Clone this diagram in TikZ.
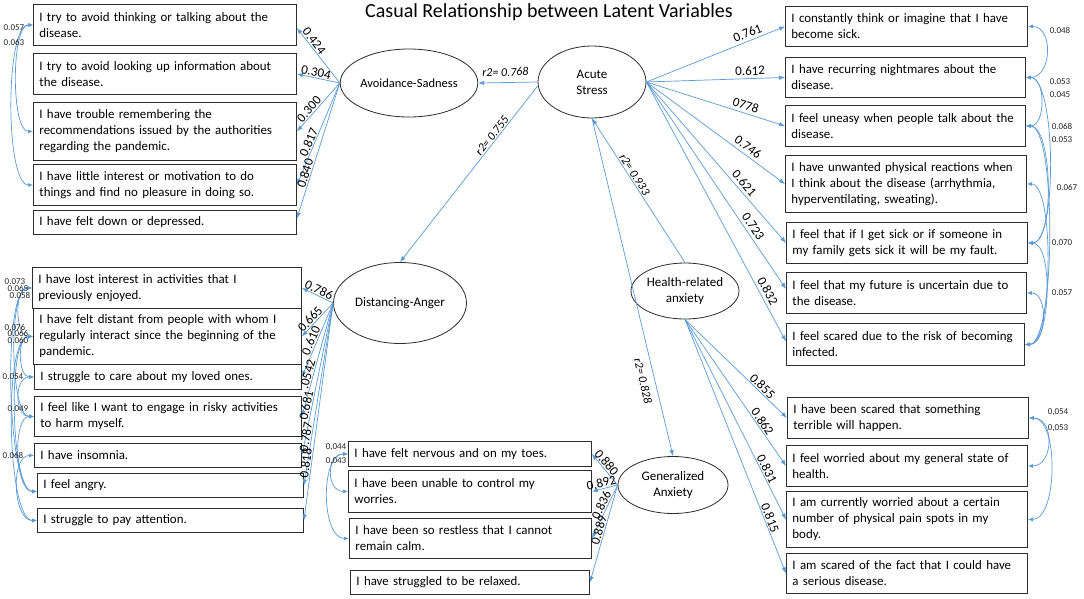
\documentclass[tikz,border=0pt]{standalone}
\usepackage{fontspec}
\setmainfont{Carlito}
\usetikzlibrary{shapes.geometric,arrows.meta}
\definecolor{lnk}{RGB}{91,155,213}
\definecolor{bord}{RGB}{45,45,45}
\newcommand\keepln[1]{\mbox{#1}}
\begin{document}
\begin{tikzpicture}[x=1pt,y=-1pt,
  box/.style={draw=bord, line width=0.9pt, fill=white, anchor=north west, inner xsep=6pt, inner ysep=0pt, align=left, font=\fontsize{12.9}{16}\selectfont},
  lat/.style={ellipse, draw=bord, line width=0.8pt, fill=white, inner sep=0pt, align=center, font=\fontsize{13}{16}\selectfont},
  ld/.style={draw=lnk, line width=0.7pt, -{Latex[length=6pt,width=4.5pt]}},
  cov/.style={draw=lnk, line width=0.7pt, {Latex[length=5pt,width=4pt]}-{Latex[length=5pt,width=4pt]}},
  el/.style={font=\fontsize{13}{14}\selectfont, inner sep=1pt, sloped},
  rl/.style={font=\itshape\fontsize{12}{14}\selectfont, inner sep=1pt, sloped},
  cl/.style={font=\fontsize{9}{10}\selectfont, inner sep=0pt, text=black!85},
]
\fill[white] (0,0) rectangle (1084,598);
\useasboundingbox (0,0) rectangle (1084,598);

\node[font=\fontsize{20}{24}\selectfont] (title) at (549,12) {Casual Relationship between Latent Variables};

% Avoidance-Sadness items
\node[box, minimum width=263pt, minimum height=41pt, text width=251pt] (A1) at (33,4) {\keepln{I try to avoid thinking or talking about the}\\disease.};
\node[box, minimum width=263pt, minimum height=41pt, text width=251pt] (A2) at (33,53) {\keepln{I try to avoid looking up information about}\\the disease.};
\node[box, minimum width=263pt, minimum height=58pt, text width=251pt] (A3) at (33,102) {\keepln{I have trouble remembering the}\\\keepln{recommendations issued by the authorities}\\\keepln{regarding the pandemic.}};
\node[box, minimum width=263pt, minimum height=41pt, text width=251pt] (A4) at (33,164) {\keepln{I have little interest or motivation to do}\\\keepln{things and find no pleasure in doing so.}};
\node[box, minimum width=263pt, minimum height=24pt, text width=251pt] (A5) at (33,210) {\keepln{I have felt down or depressed.}};

% Distancing-Anger items
\node[box, minimum width=269pt, minimum height=41pt, text width=257pt] (D1) at (32,267) {\keepln{I have lost interest in activities that I}\\\keepln{previously enjoyed.}};
\node[box, minimum width=268pt, minimum height=56pt, text width=256pt] (D2) at (33,308) {\keepln{I have felt distant from people with whom I}\\\keepln{regularly interact since the beginning of the}\\\keepln{pandemic.}};
\node[box, minimum width=267pt, minimum height=25pt, text width=255pt] (D3) at (34,364) {\keepln{I struggle to care about my loved ones.}};
\node[box, minimum width=267pt, minimum height=40pt, text width=255pt] (D4) at (34,396) {\keepln{I feel like I want to engage in risky activities}\\\keepln{to harm myself.}};
\node[box, minimum width=267pt, minimum height=24pt, text width=255pt] (D5) at (34,443) {\keepln{I have insomnia.}};
\node[box, minimum width=266pt, minimum height=24pt, text width=254pt] (D6) at (37,473) {\keepln{I feel angry.}};
\node[box, minimum width=266pt, minimum height=24pt, text width=254pt] (D7) at (37,508) {\keepln{I struggle to pay attention.}};

% Generalized Anxiety items
\node[box, minimum width=243pt, minimum height=25pt, text width=231pt] (G1) at (348,441) {\keepln{I have felt nervous and on my toes.}};
\node[box, minimum width=243pt, minimum height=42pt, text width=231pt] (G2) at (348,470) {\keepln{I have been unable to control my}\\\keepln{worries.}};
\node[box, minimum width=242pt, minimum height=40pt, text width=230pt] (G3) at (349,518) {\keepln{I have been so restless that I cannot}\\\keepln{remain calm.}};
\node[box, minimum width=239pt, minimum height=24pt, text width=227pt] (G4) at (350,570) {\keepln{I have struggled to be relaxed.}};

% Acute Stress items
\node[box, minimum width=242pt, minimum height=40pt, text width=230pt] (R1) at (785,6) {\keepln{I constantly think or imagine that I have}\\\keepln{become sick.}};
\node[box, minimum width=240pt, minimum height=40pt, text width=228pt] (R2) at (785,57) {\keepln{I have recurring nightmares about the}\\\keepln{disease.}};
\node[box, minimum width=240pt, minimum height=41pt, text width=228pt] (R3) at (785,105) {\keepln{I feel uneasy when people talk about the}\\\keepln{disease.}};
\node[box, minimum width=241pt, minimum height=57pt, text width=229pt] (R4) at (785,155) {\keepln{I have unwanted physical reactions when}\\\keepln{I think about the disease (arrhythmia,}\\\keepln{hyperventilating, sweating).}};
\node[box, minimum width=241pt, minimum height=41pt, text width=229pt] (R5) at (786,222) {\keepln{I feel that if I get sick or if someone in}\\\keepln{my family gets sick it will be my fault.}};
\node[box, minimum width=240pt, minimum height=41pt, text width=228pt] (R6) at (786,272) {\keepln{I feel that my future is uncertain due to}\\\keepln{the disease.}};
\node[box, minimum width=238pt, minimum height=42pt, text width=226pt] (R7) at (786,323) {\keepln{I feel scared due to the risk of becoming}\\\keepln{infected.}};

% Health-related anxiety items
\node[box, minimum width=241pt, minimum height=41pt, text width=229pt] (H1) at (787,397) {\keepln{I have been scared that something}\\\keepln{terrible will happen.}};
\node[box, minimum width=241pt, minimum height=41pt, text width=229pt] (H2) at (786,445) {\keepln{I feel worried about my general state of}\\\keepln{health.}};
\node[box, minimum width=241pt, minimum height=56pt, text width=229pt] (H3) at (786,491) {\keepln{I am currently worried about a certain}\\\keepln{number of physical pain spots in my}\\\keepln{body.}};
\node[box, minimum width=241pt, minimum height=40pt, text width=229pt] (H4) at (786,553) {\keepln{I am scared of the fact that I could have}\\\keepln{a serious disease.}};

% latent variables
\node[lat, minimum width=114pt, minimum height=68pt, font=\fontsize{12.5}{15}\selectfont] (AS) at (409,83) {Avoidance-Sadness};
\node[lat, minimum width=108pt, minimum height=72pt] (ASt) at (592,82) {Acute\\Stress};
\node[lat, minimum width=133pt, minimum height=81pt] (DA) at (400,303) {Distancing-Anger};
\node[lat, minimum width=100pt, minimum height=56pt] (HRA) at (685,291) {Health-related\\anxiety};
\node[lat, minimum width=110pt, minimum height=57pt] (GA) at (673,485) {Generalized\\Anxiety};

% structural paths
\draw[ld] (ASt.west) -- node[rl,pos=.54,above=5pt]{r2= 0.768} (AS.east);
\draw[ld] ([yshift=-4pt]ASt.west) -- node[rl,pos=.30,above]{r2= 0.755} (DA.north);
\draw[ld] (HRA.north) -- node[rl,pos=.59,above]{r2= 0.933} (ASt.south);
\draw[ld] (ASt.south) -- node[rl,pos=.77,below=6pt]{r2= 0.828} (GA.north);

% loadings Avoidance-Sadness
\draw[ld] (AS.west) -- node[el,pos=.70,above]{0.424} ([yshift=-3pt]A1.east);
\draw[ld] (AS.west) -- node[el,pos=.58,above]{0.304} (A2.east);
\draw[ld] (AS.west) -- node[el,pos=.62,above]{0.300} (A3.east);
\draw[ld] (AS.west) -- node[el,pos=.60,above]{0.817} (A4.east);
\draw[ld] (AS.west) -- node[el,pos=.68,above]{0.840} ([yshift=4pt]A5.east);

% loadings Acute Stress
\draw[ld] (ASt.east) -- node[el,pos=.75,above=2pt]{0.761} (R1.west);
\draw[ld] (ASt.east) -- node[el,pos=.75,above=2pt]{0.612} (R2.west);
\draw[ld] (ASt.east) -- node[el,pos=.70,above=2pt]{0778} (R3.west);
\draw[ld] (ASt.east) -- node[el,pos=.70,above=2pt]{0.746} (R4.west);
\draw[ld] (ASt.east) -- node[el,pos=.66,above=2pt]{0.621} (R5.west);
\draw[ld] (ASt.east) -- node[el,pos=.72,above=2pt]{0.723} ([yshift=4pt]R6.west);
\draw[ld] (ASt.east) -- node[el,pos=.82,above=2pt]{0.832} ([yshift=3pt]R7.west);

% loadings Distancing-Anger
\draw[ld] (DA.west) -- node[el,pos=.53,above]{0.786} (D1.east);
\draw[ld] (DA.west) -- node[el,pos=.60,above]{0.665} (D2.east);
\draw[ld] (DA.west) -- node[el,pos=.54,above]{0.610} (D3.east);
\draw[ld] (DA.west) -- node[el,pos=.64,above]{.0542} (D4.east);
\draw[ld] (DA.west) -- node[el,pos=.68,above]{0.681} (D5.east);
\draw[ld] (DA.west) -- node[el,pos=.74,above]{0.787} (D6.east);
\draw[ld] (DA.west) -- node[el,pos=.74,above]{0.818} (D7.east);

% loadings Generalized Anxiety
\draw[ld] (GA.west) -- node[el,pos=.60,above]{0.880} (G1.east);
\draw[ld] (GA.west) -- node[el,pos=.58,above]{0.892} (G2.east);
\draw[ld] (GA.west) -- node[el,pos=.43,above]{0.836} (G3.east);
\draw[ld] (GA.west) -- node[el,pos=.48,above]{0.889} (G4.east);

% loadings Health-related anxiety
\draw[ld] (HRA.south) -- node[el,pos=.72,above]{0.855} (H1.west);
\draw[ld] (HRA.south) -- node[el,pos=.72,above]{0.862} (H2.west);
\draw[ld] (HRA.south) -- node[el,pos=.76,above]{0.831} (H3.west);
\draw[ld] (HRA.south) -- node[el,pos=.79,above]{0.815} (H4.west);

% covariances
\draw[cov] (A1.west) to[out=180,in=180,distance=22pt] (A3.west);
\draw[cov] (A1.west) to[out=180,in=180,distance=28pt] (A4.west);
\node[cl] (ca1) at (14,28) {0.057};
\node[cl] (ca2) at (14,42) {0.063};

\draw[cov] (D1.west) to[out=180,in=180,distance=18pt] (D2.west);
\draw[cov] (D1.west) to[out=180,in=180,distance=24pt] (D4.west);
\draw[cov] (D1.west) to[out=180,in=180,distance=30pt] ([yshift=-6pt]D6.west);
\draw[cov] (D2.west) to[out=180,in=180,distance=16pt] (D3.west);
\draw[cov] (D2.west) to[out=180,in=180,distance=26pt] ([yshift=-6pt]D6.west);
\draw[cov] (D2.west) to[out=180,in=180,distance=30pt] (D7.west);
\draw[cov] (D3.west) to[out=180,in=180,distance=20pt] (D4.west);
\draw[cov] (D4.west) to[out=180,in=180,distance=22pt] ([yshift=-6pt]D6.west);
\draw[cov] (D5.west) to[out=180,in=180,distance=24pt] (D7.west);
\node[cl] (cd1) at (15,282) {0.073};
\node[cl] (cd2) at (18,288) {0.065};
\node[cl] (cd3) at (20,295) {0.058};
\node[cl] (cd4) at (15,327) {0.076};
\node[cl] (cd5) at (18,333) {0.066};
\node[cl] (cd6) at (18,340) {0.060};
\node[cl] (cd7) at (13,377) {0.054};
\node[cl] (cd8) at (18,409) {0.049};
\node[cl] (cd9) at (13,455) {0.068};

\draw[cov] (G1.west) to[out=180,in=180,distance=22pt] (G2.west);
\draw[cov] (G1.west) to[out=180,in=180,distance=28pt] (G3.west);
\node[cl] (cg1) at (336,447) {0,044};
\node[cl] (cg2) at (336,461) {0,043};

\draw[cov] (R1.east) to[out=0,in=0,distance=26pt] (R2.east);
\draw[cov] (R2.east) to[out=0,in=0,distance=20pt] (R3.east);
\draw[cov] (R2.east) to[out=0,in=0,distance=30pt] (R5.east);
\draw[cov] (R3.east) to[out=0,in=0,distance=27pt] (R5.east);
\draw[cov] (R3.east) to[out=0,in=0,distance=31pt] (R7.east);
\draw[cov] (R4.east) to[out=0,in=0,distance=28pt] (R7.east);
\draw[cov] (R5.east) to[out=0,in=0,distance=26pt] (R7.east);
\draw[cov] (R6.east) to[out=0,in=0,distance=22pt] (R7.east);
\node[cl] (cr1) at (1060,30) {0.048};
\node[cl] (cr2) at (1060,82) {0.053};
\node[cl] (cr3) at (1060,95) {0.045};
\node[cl] (cr4) at (1062,126) {0.068};
\node[cl] (cr5) at (1062,140) {0.053};
\node[cl] (cr6) at (1067,187) {0.067};
\node[cl] (cr7) at (1062,243) {0.070};
\node[cl] (cr8) at (1062,293) {0.057};

\draw[cov] (H1.east) to[out=0,in=0,distance=26pt] (H2.east);
\draw[cov] (H1.east) to[out=0,in=0,distance=30pt] (H3.east);
\node[cl] (ch1) at (1058,412) {0,054};
\node[cl] (ch2) at (1058,428) {0,053};
\end{tikzpicture}
\end{document}
